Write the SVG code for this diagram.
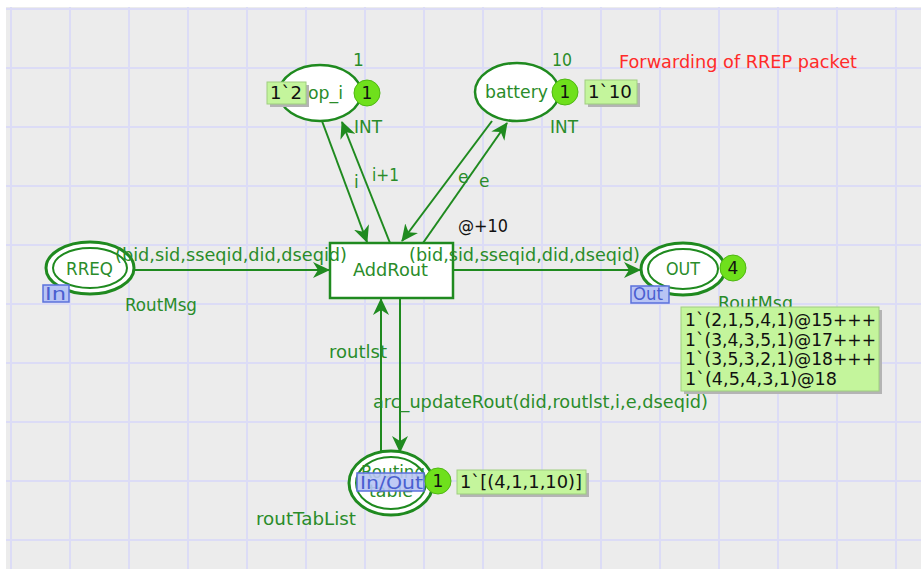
<svg xmlns="http://www.w3.org/2000/svg" width="921" height="569" viewBox="0 0 921 569">
  <style>
    .grid line { stroke: #dcdcf6; stroke-width: 2; }
    .place { fill: #ffffff; stroke: #1f8a1f; stroke-width: 2.5; }
    .port { fill: #ffffff; stroke: #1f8a1f; stroke-width: 3; }
    .portin { fill: none; stroke: #1f8a1f; stroke-width: 2; }
    .trans { fill: #ffffff; stroke: #1f8a1f; stroke-width: 2.5; }
    .arc { fill: none; stroke: #1f8a1f; stroke-width: 2; marker-end: url(#head); }
    text { font-family: "DejaVu Sans", Verdana, sans-serif; font-size: 17px; }
    .lbl { fill: #2a8c2a; }
    .mid { text-anchor: middle; }
    .blk { fill: #111111; }
    .tok { fill: #6fe01c; stroke: #4fb812; stroke-width: 1; }
    .mark { fill: #c4f59c; stroke: #9fce80; stroke-width: 1; }
    .shadow { fill: #b4b4b4; }
    .tag { fill: #b8c4f4; stroke: #5a70dc; stroke-width: 1.5; }
    .tagt { fill: #4a5fd0; }
  </style>
  <defs>
    <marker id="head" markerUnits="userSpaceOnUse" markerWidth="18" markerHeight="16" refX="16" refY="8" orient="auto">
      <path d="M0,0 L17,8 L0,16 L5,8 z" fill="#1f8a1f"/>
    </marker>
  </defs>

  <!-- page background with grid -->
  <rect x="0" y="0" width="921" height="569" fill="#ffffff"/>
  <rect x="6" y="7" width="915" height="562" fill="#ececec"/>
  <g class="grid">
    <line x1="6" y1="9" x2="921" y2="9"/>
    <line x1="6" y1="68" x2="921" y2="68"/>
    <line x1="6" y1="127" x2="921" y2="127"/>
    <line x1="6" y1="186" x2="921" y2="186"/>
    <line x1="6" y1="245" x2="921" y2="245"/>
    <line x1="6" y1="304" x2="921" y2="304"/>
    <line x1="6" y1="363" x2="921" y2="363"/>
    <line x1="6" y1="422" x2="921" y2="422"/>
    <line x1="6" y1="481" x2="921" y2="481"/>
    <line x1="6" y1="540" x2="921" y2="540"/>
    <line x1="11" y1="7" x2="11" y2="569"/>
    <line x1="70" y1="7" x2="70" y2="569"/>
    <line x1="129" y1="7" x2="129" y2="569"/>
    <line x1="188" y1="7" x2="188" y2="569"/>
    <line x1="247" y1="7" x2="247" y2="569"/>
    <line x1="306" y1="7" x2="306" y2="569"/>
    <line x1="365" y1="7" x2="365" y2="569"/>
    <line x1="424" y1="7" x2="424" y2="569"/>
    <line x1="483" y1="7" x2="483" y2="569"/>
    <line x1="542" y1="7" x2="542" y2="569"/>
    <line x1="601" y1="7" x2="601" y2="569"/>
    <line x1="660" y1="7" x2="660" y2="569"/>
    <line x1="719" y1="7" x2="719" y2="569"/>
    <line x1="778" y1="7" x2="778" y2="569"/>
    <line x1="837" y1="7" x2="837" y2="569"/>
    <line x1="896" y1="7" x2="896" y2="569"/>
  </g>

  <text x="619" y="68" fill="#ff2a2a" textLength="238" lengthAdjust="spacingAndGlyphs">Forwarding of RREP packet</text>

  <!-- connectors -->
  <g id="arcs">
    <path class="arc" d="M134,270 L329,270"/>
    <path class="arc" d="M454,270 L640,270"/>
    <path class="arc" d="M322,121 L367,242"/>
    <path class="arc" d="M390,243 L342,122"/>
    <path class="arc" d="M492,121 L402,241"/>
    <path class="arc" d="M423,243 L507,123"/>
    <path class="arc" d="M381,452 L381,299"/>
    <path class="arc" d="M400,298 L400,452"/>
  </g>

  <!-- transition -->
  <g id="AddRout">
    <rect class="trans" x="330" y="243" width="123" height="55"/>
    <text class="lbl" x="353" y="276" textLength="75" lengthAdjust="spacingAndGlyphs">AddRout</text>
    <text class="blk" x="458" y="232" textLength="50" lengthAdjust="spacingAndGlyphs">@+10</text>
  </g>

  <!-- place op_i -->
  <g id="op_i">
    <ellipse class="place" cx="320" cy="93" rx="41" ry="28"/>
    <text class="lbl" x="308" y="99" textLength="35" lengthAdjust="spacingAndGlyphs">op_i</text>
    <text class="lbl" x="353" y="66">1</text>
    <text class="lbl" x="354" y="133" textLength="28" lengthAdjust="spacingAndGlyphs">INT</text>
    <rect class="shadow" x="270" y="85" width="39" height="22"/>
    <rect class="mark" x="267" y="82" width="39" height="22"/>
    <text class="blk" x="270" y="99" textLength="32" lengthAdjust="spacingAndGlyphs">1`2</text>
    <circle class="tok" cx="367" cy="93" r="13"/>
    <text class="blk mid" x="367" y="99">1</text>
  </g>

  <!-- place battery -->
  <g id="battery">
    <ellipse class="place" cx="517" cy="92" rx="42" ry="29"/>
    <text class="lbl" x="485" y="98" textLength="63" lengthAdjust="spacingAndGlyphs">battery</text>
    <text class="lbl" x="552" y="66" textLength="20" lengthAdjust="spacingAndGlyphs">10</text>
    <text class="lbl" x="550" y="133" textLength="28" lengthAdjust="spacingAndGlyphs">INT</text>
    <circle class="tok" cx="565" cy="92" r="13"/>
    <text class="blk mid" x="565" y="98">1</text>
    <rect class="shadow" x="588" y="83" width="52" height="24"/>
    <rect class="mark" x="585" y="80" width="52" height="24"/>
    <text class="blk" x="588" y="98" textLength="44" lengthAdjust="spacingAndGlyphs">1`10</text>
  </g>

  <!-- input port RREQ -->
  <g id="RREQ">
    <ellipse class="port" cx="90" cy="268" rx="44" ry="26"/>
    <ellipse class="portin" cx="90" cy="268" rx="37" ry="20"/>
    <text class="lbl" x="66" y="275" textLength="47" lengthAdjust="spacingAndGlyphs">RREQ</text>
    <rect class="tag" x="43" y="285" width="26" height="17"/>
    <text class="tagt" x="45" y="300" textLength="21" lengthAdjust="spacingAndGlyphs">In</text>
    <text class="lbl" x="125" y="311" textLength="72" lengthAdjust="spacingAndGlyphs">RoutMsg</text>
  </g>

  <!-- output port OUT -->
  <g id="OUT">
    <ellipse class="port" cx="683" cy="269" rx="42" ry="26"/>
    <ellipse class="portin" cx="683" cy="269" rx="35" ry="20"/>
    <text class="lbl" x="666" y="275" textLength="34" lengthAdjust="spacingAndGlyphs">OUT</text>
    <circle class="tok" cx="733" cy="268" r="13"/>
    <text class="blk mid" x="733" y="274">4</text>
    <rect class="tag" x="631" y="286" width="38" height="17"/>
    <text class="tagt" x="633" y="300" textLength="30" lengthAdjust="spacingAndGlyphs">Out</text>
    <text class="lbl" x="718" y="309" textLength="75" lengthAdjust="spacingAndGlyphs">RoutMsg</text>
    <rect class="shadow" x="684" y="310" width="198" height="84"/>
    <rect class="mark" x="681" y="307" width="198" height="84"/>
    <text class="blk" x="685" y="326" textLength="191" lengthAdjust="spacingAndGlyphs">1`(2,1,5,4,1)@15+++</text>
    <text class="blk" x="685" y="346" textLength="191" lengthAdjust="spacingAndGlyphs">1`(3,4,3,5,1)@17+++</text>
    <text class="blk" x="685" y="365" textLength="191" lengthAdjust="spacingAndGlyphs">1`(3,5,3,2,1)@18+++</text>
    <text class="blk" x="685" y="385" textLength="152" lengthAdjust="spacingAndGlyphs">1`(4,5,4,3,1)@18</text>
  </g>

  <!-- in/out port Routing table -->
  <g id="RoutingTable">
    <ellipse class="port" cx="391" cy="483" rx="42" ry="32"/>
    <ellipse class="portin" cx="391" cy="483" rx="35" ry="26"/>
    <text class="lbl mid" x="393" y="478" textLength="64" lengthAdjust="spacingAndGlyphs">Routing</text>
    <text class="lbl mid" x="391" y="497" textLength="44" lengthAdjust="spacingAndGlyphs">table</text>
    <rect class="tag" x="357" y="473" width="67" height="18" fill-opacity="0.9"/>
    <text class="tagt" x="360" y="489" textLength="63" lengthAdjust="spacingAndGlyphs">In/Out</text>
    <circle class="tok" cx="438" cy="481" r="13"/>
    <text class="blk mid" x="438" y="487">1</text>
    <rect class="shadow" x="460" y="473" width="129" height="24"/>
    <rect class="mark" x="457" y="470" width="129" height="24"/>
    <text class="blk" x="460" y="488" textLength="122" lengthAdjust="spacingAndGlyphs">1`[(4,1,1,10)]</text>
    <text class="lbl" x="256" y="525" textLength="100" lengthAdjust="spacingAndGlyphs">routTabList</text>
  </g>

  <!-- arc inscriptions, drawn above the nodes -->
  <g id="arc-labels">
    <text class="lbl" x="115" y="261" textLength="232" lengthAdjust="spacingAndGlyphs">(bid,sid,sseqid,did,dseqid)</text>
    <text class="lbl" x="409" y="261" textLength="231" lengthAdjust="spacingAndGlyphs">(bid,sid,sseqid,did,dseqid)</text>
    <text class="lbl" x="354" y="188">i</text>
    <text class="lbl" x="372" y="181" textLength="27" lengthAdjust="spacingAndGlyphs">i+1</text>
    <text class="lbl" x="458" y="183">e</text>
    <text class="lbl" x="479" y="187">e</text>
    <text class="lbl" x="329" y="358" textLength="58" lengthAdjust="spacingAndGlyphs">routlst</text>
    <text class="lbl" x="373" y="408" textLength="335" lengthAdjust="spacingAndGlyphs">arc_updateRout(did,routlst,i,e,dseqid)</text>
  </g>
</svg>
